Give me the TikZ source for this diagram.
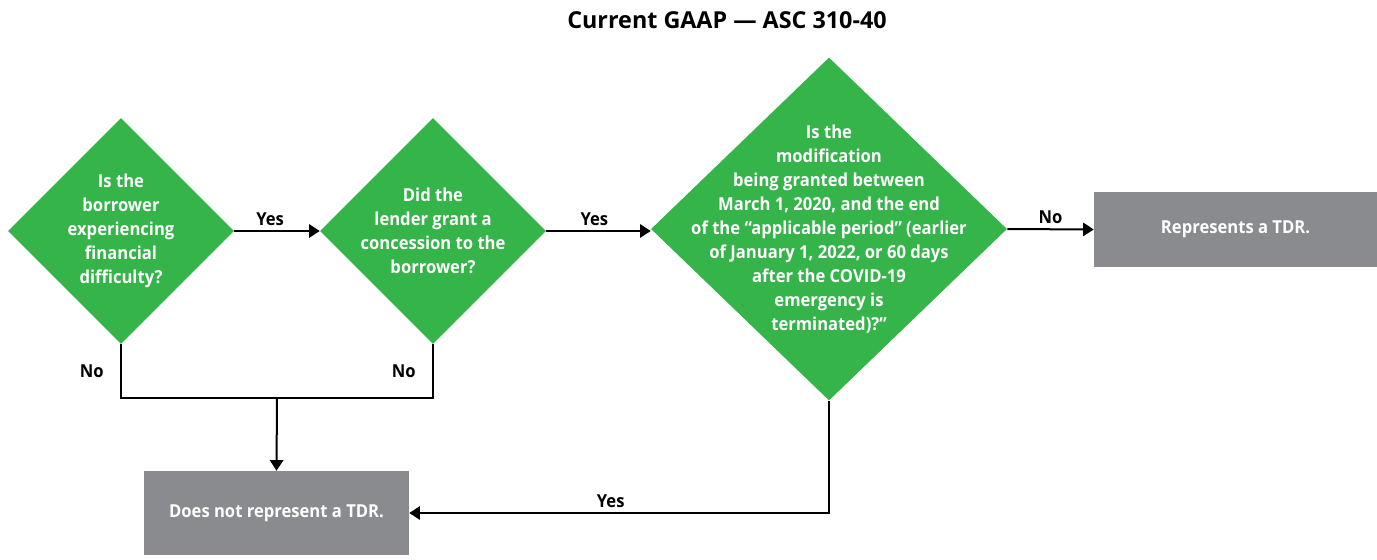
\documentclass[tikz,border=0pt]{standalone}
\usepackage{fontspec}
\setmainfont{Open Sans}
\newfontfamily\semifont[FakeStretch=0.93]{Open Sans}
\usetikzlibrary{shapes.geometric,arrows.meta}
\definecolor{tdrgreen}{HTML}{35B44A}
\definecolor{tdrgray}{HTML}{898B8E}
\begin{document}
\begin{tikzpicture}[x=0.75pt, y=-0.75pt,
    dia/.style={diamond, fill=tdrgreen, inner sep=0pt},
    qtext/.style={text=white, align=center, font=\semifont\bfseries\fontsize{13.4}{18}\selectfont},
    box/.style={fill=tdrgray, text=white, font=\semifont\bfseries\fontsize{13.4}{18}\selectfont},
    lbl/.style={font=\semifont\bfseries\fontsize{13.4}{18}\selectfont},
    link/.style={line width=1.5pt},
    flow/.style={line width=1.5pt, -{Triangle[length=8pt,width=10pt]}}]
\useasboundingbox (0,0) rectangle (1377,560);
\node[font=\bfseries\fontsize{17.5}{20}\selectfont] (title) at (727,20) {Current GAAP --- ASC 310-40};
% questions
\node[dia, minimum width=169.5pt, minimum height=169.5pt] (q1) at (121,231) {};
\node[qtext] (q1t) at (q1) {Is the\\borrower\\experiencing\\financial\\difficulty?};
\node[dia, minimum width=169.5pt, minimum height=169.5pt] (q2) at (433,231) {};
\node[qtext] (q2t) at (q2) {Did the\\lender grant a\\concession to the\\borrower?};
\node[dia, minimum width=267pt, minimum height=257.25pt] (q3) at (829,229) {};
\node[qtext] (q3t) at (q3) {Is the\\modification\\being granted between\\March 1, 2020, and the end\\of the “applicable period” (earlier\\of January 1, 2022, or 60 days\\after the COVID-19\\emergency is\\terminated)?”};
% outcomes
\node[box, minimum width=212.25pt, minimum height=56.25pt] (r1) at (1235.5,229.5) {Represents a TDR.};
\node[box, minimum width=198.75pt, minimum height=63pt] (r2) at (276.5,513) {Does not represent a TDR.};
\coordinate (join) at (277,398);
% connectors
\draw[flow] (q1.east) -- node[lbl, above, pos=0.42] {Yes} (q2.west);
\draw[flow] (q2.east) -- node[lbl, above, pos=0.46] {Yes} (q2.east -| q3.west);
\draw[flow] (q3.east) -- node[lbl, above] {No} (r1.west);
\draw[link] (q1.south) -- node[lbl, left=9pt] {No} (q1.south |- join) -- (q2.south |- join)
    -- node[lbl, left=9pt] {No} (q2.south);
\draw[flow] (join) -- (r2.north);
\draw[flow] (q3.south) |- node[lbl, above, pos=0.76] {Yes} (r2.east);
\end{tikzpicture}
\end{document}
